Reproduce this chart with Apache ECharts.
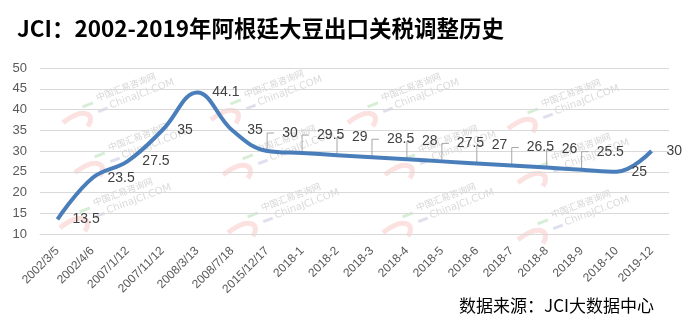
<!DOCTYPE html>
<html>
<head>
<meta charset="utf-8">
<script src="https://cdn.jsdelivr.net/npm/echarts@6/dist/echarts.min.js"></script>
<style>
html,body{margin:0;padding:0;background:#fff;}
#main{width:685px;height:331px;}
</style>
</head>
<body>
<div id="main"></div>
<script>
// ---- data ----
const categories = ['2002/3/5','2002/4/6','2007/1/12','2007/11/12','2008/3/13','2008/7/18','2015/12/17',
  '2018-1','2018-2','2018-3','2018-4','2018-5','2018-6','2018-7','2018-8','2018-9','2018-10','2019-12'];
const tariffValues = [13.5,23.5,27.5,35,44.1,35,30,29.5,29,28.5,28,27.5,27,26.5,26,25.5,25,30];
const yTicks = [10,15,20,25,30,35,40,45,50];
const titleText = 'JCI：2002-2019年阿根廷大豆出口关税调整历史';
const sourceText = '数据来源：JCI大数据中心';
// indices whose labels are drawn as callouts (raised with a leader line)
const calloutIndices = [6,7,8,9,10,11,12,13,14,15];

const calloutSet = new Set(calloutIndices);
const CALLOUT_DY = -18;

// watermark anchors (decoration)
const wmAnchors = [[95,100],[107,150],[92,205],[243,97],[380,100],[255,152],[417,152],[260,210],[415,210],[540,106],[550,160],[550,217]];
const graphics = [];
wmAnchors.forEach(function(a){
  graphics.push({
    type:'group', x:a[0], y:a[1], rotation:0.36, z:0, silent:true,
    children:[
      {type:'bezierCurve', shape:{x1:-38,y1:10,cpx1:-12,cpy1:2,cpx2:-4,cpy2:14,x2:-16,y2:22},
        style:{stroke:'rgba(240,120,120,0.22)', lineWidth:5, fill:null}},
      {type:'line', shape:{x1:-14,y1:2,x2:-3,y2:2}, style:{stroke:'rgba(120,200,120,0.3)', lineWidth:3}},
      {type:'text', x:2, y:-6, style:{text:'中国汇易咨询网', font:'9px "Noto Sans CJK SC"', fill:'rgba(150,150,150,0.4)'}},
      {type:'text', x:12, y:6, style:{text:'ChinaJCI.COM', font:'10px "DejaVu Sans"', fill:'rgba(150,150,150,0.35)'}},
      {type:'line', shape:{x1:-1,y1:12,x2:9,y2:12}, style:{stroke:'rgba(150,150,200,0.3)', lineWidth:3}}
    ]
  });
});
graphics.push({
  type:'text', left:17, top:17, z:10,
  style:{text:titleText, font:'bold 22.5px "Noto Sans CJK SC"', fill:'#000'}
});
graphics.push({
  type:'text', right:31, top:297, z:10,
  style:{text:sourceText, font:'17px "Noto Sans CJK SC"', fill:'#000'}
});

const seriesData = tariffValues.map(function(v,i){
  return calloutSet.has(i) ? {value:v, label:{offset:[0,CALLOUT_DY]}} : v;
});

const chart = echarts.init(document.getElementById('main'));
chart.setOption({
  animation:false,
  graphic: graphics,
  grid:{left:40, right:16, top:68, bottom:97, containLabel:false},
  xAxis:{
    type:'category', data:categories, boundaryGap:true,
    axisLine:{show:true, lineStyle:{color:'#D9D9D9'}},
    axisTick:{show:false},
    axisLabel:{rotate:45, interval:0, margin:15, fontSize:12, color:'#595959', fontFamily:'"Liberation Sans", sans-serif'}
  },
  yAxis:{
    type:'value', min:yTicks[0], max:yTicks[yTicks.length-1], interval:5,
    axisLine:{show:false}, axisTick:{show:false},
    axisLabel:{fontSize:13, color:'#595959', margin:13, fontFamily:'"Liberation Sans", sans-serif'},
    splitLine:{lineStyle:{color:'#D9D9D9'}}
  },
  series:[
    {
      type:'line', data:seriesData, smooth:0.4, z:5,
      symbol:'circle', symbolSize:2, showSymbol:true,
      itemStyle:{color:'rgba(0,0,0,0)', borderWidth:0},
      lineStyle:{color:'#4A7EBB', width:4},
      label:{show:true, position:'right', distance:14, fontSize:14, color:'#404040', fontFamily:'"Liberation Sans", sans-serif'}
    },
    {
      type:'custom', z:4, silent:true,
      data: tariffValues.map(function(v,i){return [i,v];}),
      encode:{x:0,y:1},
      renderItem:function(params, api){
        const i = api.value(0);
        if(!calloutSet.has(i)) return null;
        const p = api.coord([i, api.value(1)]);
        return {type:'polyline', shape:{points:[[p[0],p[1]],[p[0],p[1]+CALLOUT_DY],[p[0]+7,p[1]+CALLOUT_DY]]},
          style:{stroke:'#A6A6A6', lineWidth:1, fill:null}};
      }
    }
  ]
});
</script>
</body>
</html>
